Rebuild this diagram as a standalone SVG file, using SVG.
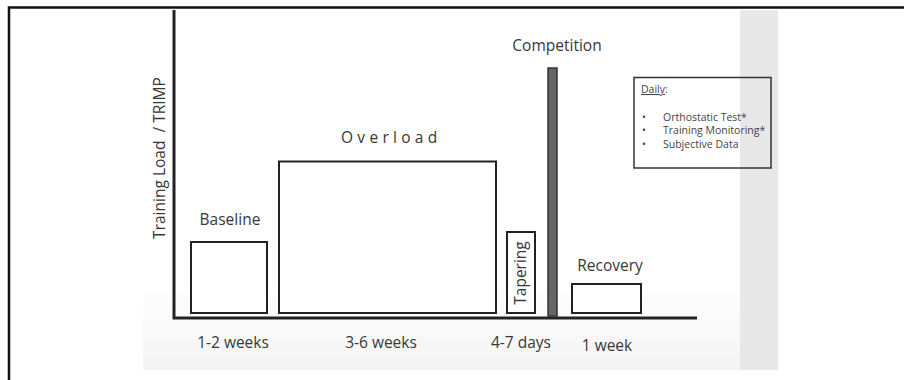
<svg xmlns="http://www.w3.org/2000/svg" width="904" height="380" viewBox="0 0 904 380">
<defs>
<linearGradient id="bg" x1="0" y1="0" x2="0" y2="1">
<stop offset="0" stop-color="#ffffff"/>
<stop offset="1" stop-color="#f4f4f4"/>
</linearGradient>
<style>
.t{font-family:"Open Sans","Noto Sans",sans-serif;fill:#383838;font-size:15.5px}
.box{fill:#fff;stroke:#222;stroke-width:2}
.ax{stroke:#222;stroke-width:3;fill:none}
.s{font-family:"Open Sans","Noto Sans",sans-serif;fill:#444;font-size:10.5px}
</style>
</defs>
<rect x="0" y="0" width="904" height="380" fill="#fff"/>
<rect x="143" y="280" width="635" height="90" fill="url(#bg)"/>
<rect x="740" y="10" width="38" height="360" fill="#e8e8e8"/>
<path d="M9 380 V7.5 H904" stroke="#111" stroke-width="2.5" fill="none"/>
<g id="axes">
<path class="ax" d="M174 10 V318 H697"/>
</g>
<text class="t" transform="translate(165 158) rotate(-90)" text-anchor="middle" xml:space="preserve">Training Load  / TRIMP</text>
<g id="baseline">
<rect class="box" x="191" y="242" width="76" height="71"/>
<text class="t" x="230" y="225" text-anchor="middle">Baseline</text>
<text class="t" x="233" y="348" text-anchor="middle">1-2 weeks</text>
</g>
<g id="overload">
<rect class="box" x="279" y="161.5" width="217" height="151.5"/>
<text class="t" x="341" y="143" letter-spacing="4.3">Overload</text>
<text class="t" x="381" y="348" text-anchor="middle">3-6 weeks</text>
</g>
<g id="tapering">
<rect class="box" x="507" y="232" width="28" height="81"/>
<text class="t" transform="translate(526 273) rotate(-90)" text-anchor="middle">Tapering</text>
<text class="t" x="521" y="348" text-anchor="middle">4-7 days</text>
</g>
<g id="competition">
<rect x="548" y="68" width="9" height="248" fill="#666" stroke="#333" stroke-width="1.5"/>
<text class="t" x="557" y="51" text-anchor="middle">Competition</text>
</g>
<g id="recovery">
<rect class="box" x="572" y="284" width="69" height="29"/>
<text class="t" x="610" y="271" text-anchor="middle">Recovery</text>
<text class="t" x="607" y="351" text-anchor="middle">1 week</text>
</g>
<g id="daily">
<rect x="634" y="77.5" width="137" height="90.5" fill="none" stroke="#333" stroke-width="1.5"/>
<text class="s" x="641" y="93"><tspan text-decoration="underline">Daily</tspan>:</text>
<text class="s" x="642" y="121">•</text><text class="s" x="663" y="121">Orthostatic Test*</text>
<text class="s" x="642" y="134">•</text><text class="s" x="663" y="134">Training Monitoring*</text>
<text class="s" x="642" y="148">•</text><text class="s" x="663" y="148">Subjective Data</text>
</g>
</svg>
